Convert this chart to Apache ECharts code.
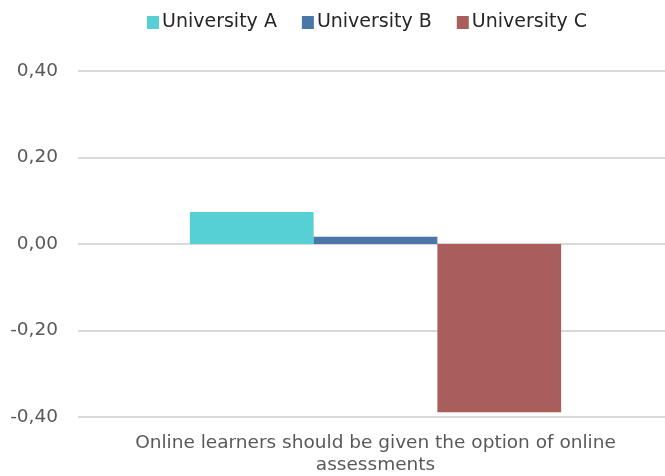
<!DOCTYPE html>
<html>
<head>
<meta charset="utf-8">
<script src="https://cdn.jsdelivr.net/npm/echarts@6/dist/echarts.min.js"></script>
<style>
  html, body { margin: 0; padding: 0; background: #fff; }
  #chart { width: 665px; height: 476px; }
</style>
</head>
<body>
<div id="chart"></div>
<script>
// data
const categories = ['Online learners should be given the option of online\nassessments']
const seriesNames = ['University A', 'University B', 'University C']
const seriesValues = [[0.074], [0.017], [-0.389]]
const seriesColors = ['#56d0d4', '#4a76a8', '#a95e5c']

const chart = echarts.init(document.getElementById('chart'))

const option = {
  animation: false,
  textStyle: { fontFamily: 'DejaVu Sans, sans-serif' },
  legend: {
    top: 8,
    left: 142,
    itemWidth: 12,
    itemHeight: 13,
    itemGap: 25,
    icon: 'rect',
    textStyle: { fontSize: 19, color: '#262626', padding: [0, 0, 0, -2] },
    data: seriesNames,
  },
  grid: { left: 78, right: -8, top: 71, bottom: 59, outerBoundsMode: 'none' },
  xAxis: {
    type: 'category',
    data: categories,
    axisLine: { show: false },
    axisTick: { show: false },
    axisLabel: {
      fontSize: 18.5,
      color: '#595959',
      lineHeight: 22,
      margin: 15,
    },
  },
  yAxis: {
    type: 'value',
    min: -0.4,
    max: 0.4,
    interval: 0.2,
    axisLine: { show: false },
    axisTick: { show: false },
    splitLine: { lineStyle: { color: '#d9d9d9', width: 2 } },
    axisLabel: {
      fontSize: 18.5,
      color: '#595959',
      margin: 20,
      formatter: v => v.toFixed(2).replace('.', ','),
    },
  },
  series: seriesNames.map((name, i) => ({
    name,
    type: 'bar',
    data: seriesValues[i],
    barGap: 0,
    barCategoryGap: '37.6%',
    itemStyle: { color: seriesColors[i] },
  })),
}

chart.setOption(option)
</script>
</body>
</html>
